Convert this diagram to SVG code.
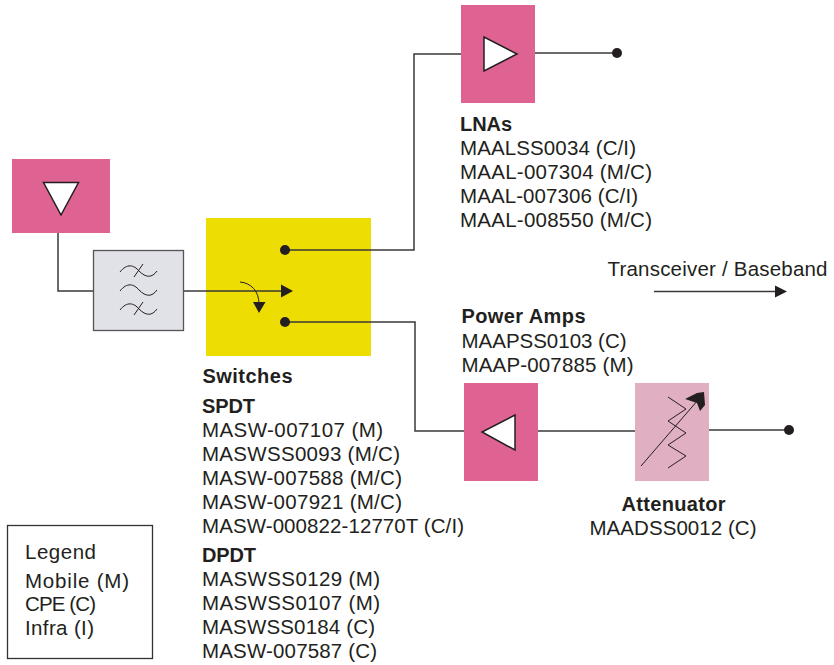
<svg xmlns="http://www.w3.org/2000/svg" width="834" height="665" viewBox="0 0 834 665">
<style>
text{font-family:"Liberation Sans",Arial,sans-serif;font-size:20.500px;fill:#231f20}
.b{font-weight:700;font-size:20px}
.pink{fill:#df6392}
.w{fill:#fff;stroke:#231f20;stroke-width:1.5}
.c{fill:none;stroke:#3a3838;stroke-width:1.5}
.t{fill:none;stroke:#231f20;stroke-width:1}
.d{fill:#231f20}
</style>
<rect width="834" height="665" fill="#fff"/>
<g id="connectors">
<path class="c" d="M58 233V291H94"/>
<path class="c" d="M183 291H282"/>
<path class="c" d="M285 250H414V54H461"/>
<path class="c" d="M285 322H415V431H464"/>
<path class="c" d="M534 53H617"/>
<path class="c" d="M538 431H635"/>
<path class="c" d="M709 430H789"/>
<path class="c" d="M654 291.500H775"/>
<path class="d" d="M775 285.500L787 291.500L775 297.500Z"/>
</g>
<g id="antenna"><rect class="pink" x="12" y="159" width="98" height="74"/><path class="w" d="M43.500 182.500H78.500L61 215Z"/></g>
<g id="filter"><rect x="93.500" y="250.500" width="90" height="80" fill="#e1e1e8" stroke="#555" stroke-width="1.300"/>
<path class="t" d="M120 272C127 263 134 265 139 271C146 278 152 278 157 271M134 277L143 264"/>
<path class="t" d="M120 291C127 282 134 284 139 290C146 297 152 297 157 290"/>
<path class="t" d="M120 310C127 301 134 303 139 309C146 316 152 316 157 309M134 315L143 302"/></g>
<g id="switch"><rect x="206" y="218" width="165" height="138" fill="#eddd00"/>
<path class="c" d="M206 291H282"/>
<path class="c" d="M285 250H371M285 322H371"/>
<circle class="d" cx="285" cy="250" r="5"/><circle class="d" cx="285" cy="322" r="5"/>
<path class="d" d="M281 284.500L293 291L281 297.500Z"/>
<path class="t" stroke-width="1.300" d="M240 282C251 283 259 291 259 304"/>
<path class="d" d="M253 302H265.500L259 313Z"/></g>
<g id="lna"><rect class="pink" x="461" y="5" width="74" height="98"/><path class="w" d="M484 37V71L517 54Z"/><circle class="d" cx="617" cy="53" r="5"/></g>
<g id="pa"><rect class="pink" x="464" y="383" width="74" height="98"/><path class="w" d="M515 415V450L482 432Z"/></g>
<g id="attenuator"><rect x="635" y="383" width="74" height="98" fill="#e0afc2"/>
<path class="t" d="M668 397L686 409L668 421L686 433L668 445L686 456L668 468"/>
<path class="t" d="M641 466L698 400"/>
<path class="d" d="M685 399L697 393L704 392L705 405L700 411L697 403Z"/></g>
<circle id="output" class="d" cx="789" cy="430" r="5"/>
<g id="lna-text"><text class="b" x="460" y="131" textLength="52">LNAs</text>
<text x="460" y="155" textLength="176">MAALSS0034 (C/I)</text><text x="460" y="179" textLength="192">MAAL-007304 (M/C)</text><text x="460" y="202.500" textLength="178">MAAL-007306 (C/I)</text><text x="460" y="226.500" textLength="192">MAAL-008550 (M/C)</text></g>
<g id="trx"><text x="607.500" y="275.500" textLength="220">Transceiver / Baseband</text></g>
<g id="pa-text"><text class="b" x="461.500" y="323" textLength="124">Power Amps</text><text x="461.500" y="347.500" textLength="165">MAAPSS0103 (C)</text><text x="461.500" y="371.500" textLength="172">MAAP-007885 (M)</text></g>
<g id="att-text"><text class="b" x="621.500" y="510.500" textLength="104">Attenuator</text><text x="589.500" y="535" textLength="167">MAADSS0012 (C)</text></g>
<g id="switch-text"><text class="b" x="202.500" y="383" textLength="90">Switches</text><text class="b" x="202" y="412.500" textLength="53">SPDT</text>
<text x="202" y="436.500" textLength="181">MASW-007107 (M)</text><text x="202" y="460.500" textLength="198">MASWSS0093 (M/C)</text><text x="202" y="484.500" textLength="200">MASW-007588 (M/C)</text><text x="202" y="508.500" textLength="200">MASW-007921 (M/C)</text><text x="202" y="532.500" textLength="262">MASW-000822-12770T (C/I)</text>
<text class="b" x="202" y="561.500" textLength="54">DPDT</text>
<text x="202" y="585.500" textLength="178">MASWSS0129 (M)</text><text x="202" y="609.500" textLength="178">MASWSS0107 (M)</text><text x="202" y="633.500" textLength="173">MASWSS0184 (C)</text><text x="202" y="657.500" textLength="175">MASW-007587 (C)</text></g>
<g id="legend"><rect x="7.500" y="525.500" width="145" height="133" fill="#fff" stroke="#333" stroke-width="1.300"/>
<text x="25" y="558.500" textLength="71">Legend</text><text x="25" y="587.500" textLength="104">Mobile (M)</text><text x="25" y="611" textLength="71">CPE (C)</text><text x="25" y="635" textLength="69">Infra (I)</text></g>
</svg>
